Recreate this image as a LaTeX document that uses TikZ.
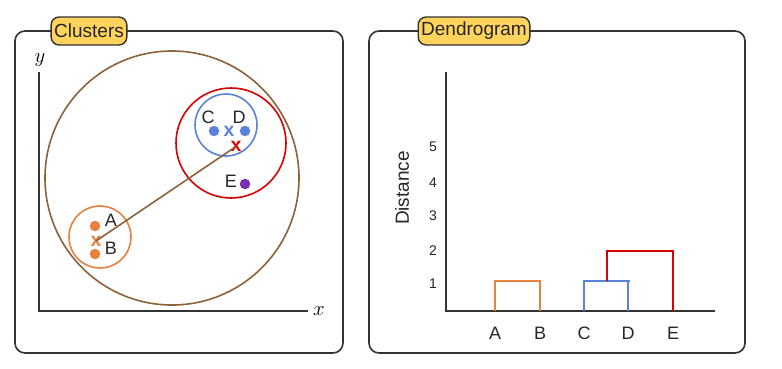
\documentclass[tikz,border=0pt]{standalone}
\usepackage{fontspec}
\setmainfont{Liberation Sans}
\begin{document}
\begin{tikzpicture}[x=1pt,y=-1pt,
  panel/.style={draw=black!80,line width=1.6pt,rounded corners=10pt},
  tag/.style={draw=black!80,line width=1.4pt,rounded corners=8pt,font=\fontsize{19}{19}\selectfont,text=black!85,inner xsep=3pt,inner ysep=0pt,minimum height=28pt},
  axis/.style={draw=black!80,line width=1.8pt},
  circ/.style={line width=1.6pt},
  dot/.style={circle,inner sep=0pt,minimum size=10.5pt},
  lab/.style={font=\fontsize{18}{18}\selectfont,text=black!85,inner sep=0pt},
  tick/.style={font=\fontsize{14}{14}\selectfont,text=black!85,inner sep=0pt},
  cross/.style={font=\bfseries\fontsize{19.5}{19.5}\selectfont,inner sep=0pt},
  dend/.style={line width=2.6pt}]
\definecolor{cbrown}{HTML}{8C6239}
\definecolor{cred}{HTML}{D90000}
\definecolor{cblue}{HTML}{5B82DB}
\definecolor{corange}{HTML}{E8803F}
\definecolor{cpurple}{HTML}{7B2CB0}
\definecolor{cyel}{HTML}{FFD35C}
\useasboundingbox (0,0) rectangle (782,368);
% panels
\draw[panel] (15,31) rectangle (343,353);
\draw[panel] (369,31) rectangle (745,353);
\node[tag,fill=cyel] (t1) at (89,31) {Clusters};
\node[tag,fill=cyel] (t2) at (474,31) {Dendrogram};
% left axes
\coordinate (o1) at (39,311);
\coordinate (ytop) at (39,72);
\coordinate (xend) at (308,311);
\draw[axis] (ytop) -- (o1) -- (xend);
\node (ylab) at (40,60) {\fontsize{20}{20}\selectfont$y$};
\node (xlab) at (319,311) {\fontsize{20}{20}\selectfont$x$};
% circles
\draw[circ,cbrown] (172,178) circle[radius=127];
\draw[circ,cred] (231,143) circle[radius=55];
\draw[circ,cblue] (226,125) circle[radius=31];
\draw[circ,corange] (100,237) circle[radius=31];
% points
\node[dot,fill=corange] (A) at (95,226) {};
\node[dot,fill=corange] (B) at (95,254) {};
\node[cross,text=corange] (xab) at (96,241) {x};
\node[lab] (Al) at (111,220) {A};
\node[lab] (Bl) at (111,248) {B};
\node[dot,fill=cblue] (C) at (214,131) {};
\node[dot,fill=cblue] (D) at (245,131) {};
\node[cross,text=cblue] (xcd) at (229,131.5) {x};
\node[lab] (Cl) at (208,117) {C};
\node[lab] (Dl) at (239,117) {D};
\node[cross,text=cred] (xcde) at (236,146.5) {x};
\node[dot,fill=cpurple] (E) at (245,184) {};
\node[lab] (El) at (231,181) {E};
\draw[cbrown,line width=1.6pt] (xab.center) -- (xcde.center);
% right axes
\coordinate (o2) at (446,311);
\coordinate (ytop2) at (446,72);
\coordinate (xend2) at (715,311);
\draw[axis] (ytop2) -- (o2) -- (xend2);
\node[tick] (t5) at (433,147) {5};
\node[tick] (t4) at (433,183) {4};
\node[tick] (t3) at (433,216) {3};
\node[tick] (t2l) at (433,251) {2};
\node[tick] (t1l) at (433,284) {1};
\node[lab,rotate=90,font=\fontsize{19}{19}\selectfont] (dist) at (402,188) {Distance};
% dendrogram
\coordinate (a0) at (495,311); \coordinate (b0) at (540,311);
\coordinate (c0) at (584,311); \coordinate (d0) at (628,311);
\coordinate (e0) at (673,311);
\draw[dend,corange] (a0) |- (540,281) -- (b0);
\draw[dend,cblue] (c0) |- (630,281);
\draw[dend,cblue] (628,281) -- (d0);
\draw[dend,cred] (607,281) |- (673,251) -- (e0);
\node[lab] (xa) at (495,333) {A};
\node[lab] (xb) at (540,333) {B};
\node[lab] (xc) at (584,333) {C};
\node[lab] (xd) at (628,333) {D};
\node[lab] (xe) at (673,333) {E};
\end{tikzpicture}
\end{document}
